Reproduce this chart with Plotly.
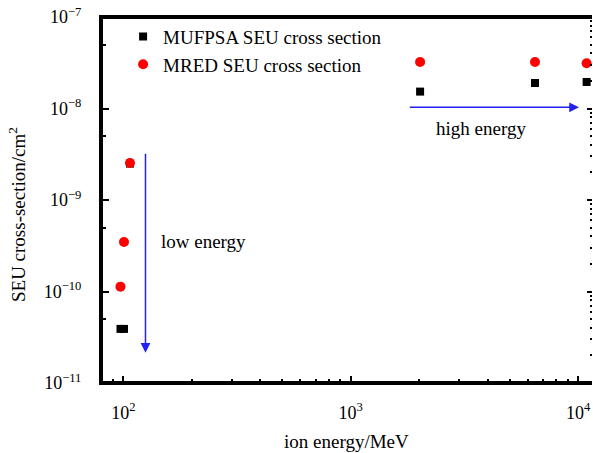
import math
import plotly.graph_objects as go

# ---- data ----
mufpsa_energy = [97.2, 100.7, 107, 2018, 6458, 10890]
mufpsa_xs = [3.9e-11, 3.9e-11, 2.5e-9, 1.53e-8, 1.9e-8, 1.95e-8]
mred_energy = [97.2, 100.7, 107, 2018, 6458, 10890]
mred_xs = [1.13e-10, 3.47e-10, 2.54e-9, 3.22e-8, 3.22e-8, 3.12e-8]

series_names = ["MUFPSA SEU cross section", "MRED SEU cross section"]
x_title = "ion energy/MeV"
y_title = "SEU cross-section/cm<sup>2</sup>"
x_tick_vals = [1e2, 1e3, 1e4]
x_tick_text = ["10<sup>2</sup>", "10<sup>3</sup>", "10<sup>4</sup>"]
y_tick_vals = [1e-11, 1e-10, 1e-9, 1e-8, 1e-7]
y_tick_text = ["10<sup>\u221211</sup>", "10<sup>\u221210</sup>", "10<sup>\u22129</sup>",
               "10<sup>\u22128</sup>", "10<sup>\u22127</sup>"]

# arrows and labels (data coords)
low_arrow = dict(x=125.2, y_from=3.32e-9, y_to=2.14e-11)
high_arrow = dict(y=1.03e-8, x_from=1791, x_to=10080)
low_label = dict(text="low energy", x=226, y=3.56e-10)
high_label = dict(text="high energy", x=3742, y=6.12e-9)

FONT = "Liberation Serif"
BLUE = "#2121f2"
lg = math.log10
XR = [1.902, 4.0607]
YR = [-11, -7]

minor_all_x = [m * 10 ** e for e in range(1, 5) for m in range(2, 10)]
minor_all_y = [m * 10.0 ** e for e in range(-12, -6) for m in range(2, 10)]
minor_five_y = [5 * 10.0 ** e for e in range(-12, -6)]

fig = go.Figure()
fig.add_trace(go.Scatter(x=mufpsa_energy, y=mufpsa_xs, mode="markers", name=series_names[0],
                         marker=dict(symbol="square", size=8, color="black")))
fig.add_trace(go.Scatter(x=mred_energy, y=mred_xs, mode="markers", name=series_names[1],
                         marker=dict(symbol="circle", size=10, color="#ff0000")))

# frame lines along the axis range edges (left, bottom, top)
x_lo, x_hi = 10 ** XR[0], 10 ** XR[1]
y_lo, y_hi = 10.0 ** YR[0], 10.0 ** YR[1]
for fx, fy in [([x_lo, x_lo], [y_lo, y_hi]), ([x_lo, x_hi], [y_lo, y_lo]), ([x_lo, x_hi], [y_hi, y_hi])]:
    fig.add_trace(go.Scatter(x=fx, y=fy, mode="lines", line=dict(color="black", width=4),
                             showlegend=False, hoverinfo="skip"))

# invisible traces so the overlay tick axes get drawn
for xa, ya in [("x2", "y"), ("x3", "y"), ("x", "y2"), ("x", "y3"), ("x", "y4"), ("x", "y5")]:
    fig.add_trace(go.Scatter(x=[mred_energy[0]], y=[mred_xs[0]], xaxis=xa, yaxis=ya, mode="markers",
                             marker=dict(opacity=0), showlegend=False, hoverinfo="skip"))

CLEAR = "rgba(0,0,0,0)"


def tick_axis(kind, side, vals, length, width):
    return dict(type="log", range=XR if kind == "x" else YR, autorange=False,
                overlaying=kind, side=side, tickmode="array", tickvals=vals,
                showticklabels=False, ticks="inside", ticklen=length, tickwidth=width,
                tickcolor="black", showgrid=False, zeroline=False, showline=False)


fig.update_layout(
    width=593, height=453,
    margin=dict(l=101, r=1, t=17, b=70),
    paper_bgcolor="white", plot_bgcolor="white",
    font=dict(family=FONT, size=18, color="black"),
    showlegend=True,
    legend=dict(x=0.045, y=0.998, xanchor="left", yanchor="top",
                font=dict(family=FONT, size=19, color="black"),
                bgcolor=CLEAR),
    xaxis=dict(type="log", range=XR, autorange=False, tickmode="array",
               tickvals=x_tick_vals, ticktext=x_tick_text,
               ticks="outside", ticklen=12, tickcolor=CLEAR,
               showgrid=False, zeroline=False, showline=True, linecolor="black",
               linewidth=2, mirror=True,
               tickfont=dict(family=FONT, size=18)),
    xaxis2=tick_axis("x", "bottom", x_tick_vals, 7, 2),
    xaxis3=tick_axis("x", "bottom", minor_all_x, 4, 1.5),
    yaxis=dict(type="log", range=YR, autorange=False, tickmode="array",
               tickvals=y_tick_vals, ticktext=y_tick_text,
               ticks="outside", ticklen=14, tickcolor=CLEAR,
               showgrid=False, zeroline=False, showline=True, linecolor="black",
               linewidth=2, mirror=False,
               tickfont=dict(family=FONT, size=18)),
    yaxis2=tick_axis("y", "right", y_tick_vals, 5, 2),
    yaxis3=tick_axis("y", "left", y_tick_vals, 8, 2),
    yaxis4=tick_axis("y", "right", minor_all_y, 2, 1.5),
    yaxis5=tick_axis("y", "left", minor_five_y, 5, 1.5),
)

annotations = [
    dict(x=lg(low_arrow["x"]), y=lg(low_arrow["y_to"]), ax=lg(low_arrow["x"]), ay=lg(low_arrow["y_from"]),
         xref="x", yref="y", axref="x", ayref="y", text="", showarrow=True,
         arrowhead=2, arrowsize=1.3, arrowwidth=1.5, arrowcolor=BLUE),
    dict(x=lg(high_arrow["x_to"]), y=lg(high_arrow["y"]), ax=lg(high_arrow["x_from"]), ay=lg(high_arrow["y"]),
         xref="x", yref="y", axref="x", ayref="y", text="", showarrow=True,
         arrowhead=2, arrowsize=1.3, arrowwidth=1.5, arrowcolor=BLUE),
    dict(x=lg(low_label["x"]), y=lg(low_label["y"]), xref="x", yref="y", text=low_label["text"],
         showarrow=False, font=dict(family=FONT, size=19, color="black")),
    dict(x=lg(high_label["x"]), y=lg(high_label["y"]), xref="x", yref="y", text=high_label["text"],
         showarrow=False, font=dict(family=FONT, size=19, color="black")),
    dict(x=0.5, y=-0.161, xref="paper", yref="paper", text=x_title, showarrow=False,
         xanchor="center", yanchor="middle", font=dict(family=FONT, size=19, color="black")),
    dict(x=-0.171, y=0.459, xref="paper", yref="paper", text=y_title, showarrow=False,
         textangle=-90, xanchor="center", yanchor="middle",
         font=dict(family=FONT, size=19, color="black")),
]
fig.update_layout(annotations=annotations)

fig.write_html("out.html")
